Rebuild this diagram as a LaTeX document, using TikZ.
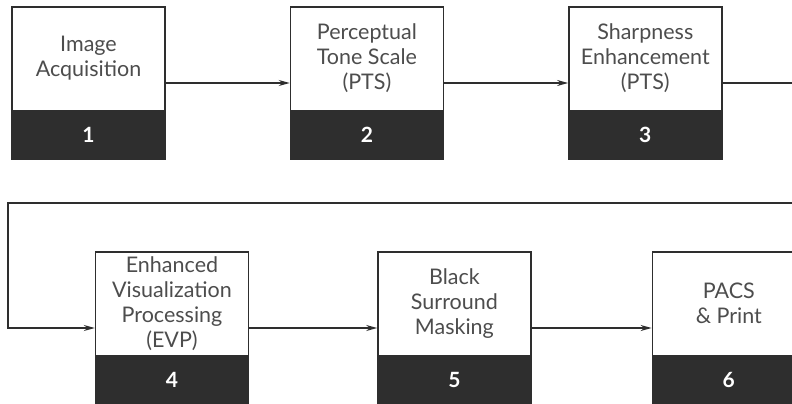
\documentclass[tikz,border=0pt]{standalone}
\usepackage{fontspec}
\setmainfont{Lato}
\usetikzlibrary{positioning,calc,arrows.meta}
\definecolor{boxgray}{HTML}{2E2E2E}
\definecolor{txtgray}{HTML}{4D4D4D}

\begin{document}
\begin{tikzpicture}[x=1pt, y=-1pt,
    stepbox/.style={draw=boxgray, line width=1.4pt, fill=white, minimum width=153pt,
      minimum height=152pt, inner sep=0pt},
    band/.style={draw=boxgray, fill=boxgray, line width=1.4pt, minimum width=153pt,
      minimum height=48pt, anchor=south, text=white, font=\bfseries\fontsize{21}{22}\selectfont},
    steptext/.style={text=txtgray, align=center, font=\fontsize{21.5}{25}\selectfont},
    flow/.style={draw=boxgray, line width=1.3pt, -{Stealth[length=11pt,width=6pt]}}]
  \clip (0,0) rectangle (792,404);
  % first row
  \node[stepbox] (b1) at (88.5,83) {};
  \node[stepbox, right=124pt of b1] (b2) {};
  \node[stepbox, right=124pt of b2] (b3) {};
  % second row
  \node[stepbox] (b4) at (172,328) {};
  \node[stepbox, right=128pt of b4] (b5) {};
  \node[stepbox, right=120pt of b5] (b6) {};
  \foreach \i/\txt in {1/{Image\\Acquisition}, 2/{Perceptual\\Tone Scale\\(PTS)},
      3/{Sharpness\\Enhancement\\(PTS)}, 4/{Enhanced\\Visualization\\Processing\\(EVP)},
      5/{Black\\Surround\\Masking}, 6/{PACS\\\& Print}}{
    \node[band] (n\i) at (b\i.south) {\i};
    \node[steptext] (t\i) at ($(b\i.north)!0.5!(n\i.north)$) {\txt};
  }
  \coordinate (rt) at (800,203);
  \coordinate (lf) at (8,203);
  \draw[flow] (b1) -- (b2);
  \draw[flow] (b2) -- (b3);
  \draw[flow] (b3.east) -| (rt) -- (lf) |- (b4.west);
  \draw[flow] (b4) -- (b5);
  \draw[flow] (b5) -- (b6);
\end{tikzpicture}
\end{document}
